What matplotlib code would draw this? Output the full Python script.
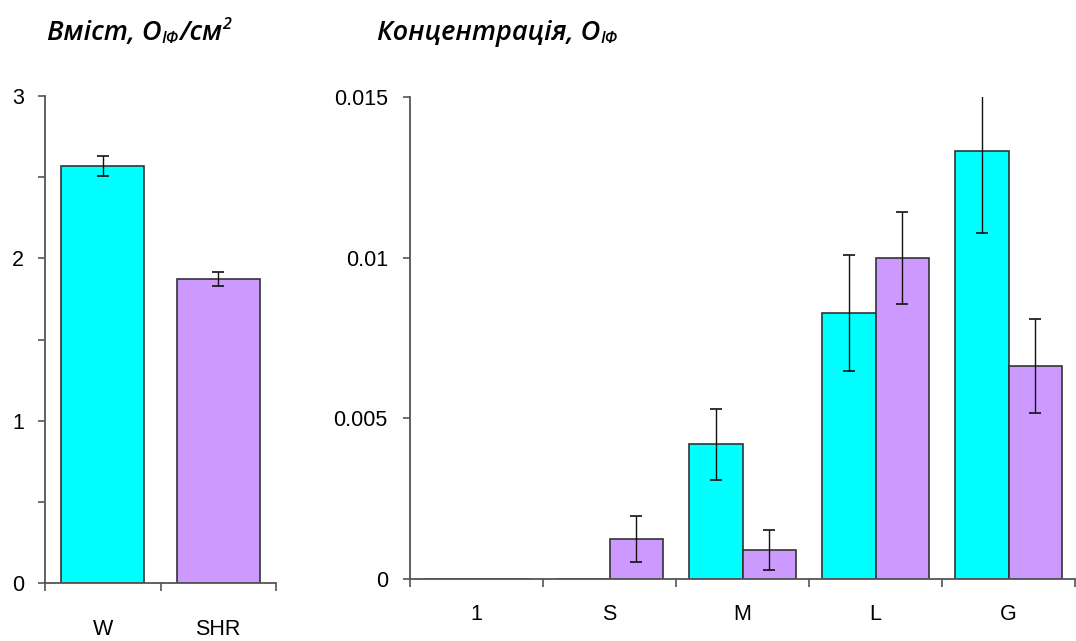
import numpy as np
import matplotlib
matplotlib.use("Agg")
import matplotlib.pyplot as plt
from matplotlib.ticker import MultipleLocator, FixedLocator

# total content per unit area
strains = ["W", "SHR"]
total = [2.57, 1.873]
total_err = [0.06, 0.045]

# concentration by fraction
fractions = ["1", "S", "M", "L", "G"]
conc_w = [0.0, 0.0, 0.00419, 0.00827, 0.01332]
conc_w_err = [0.0, 0.0, 0.0011, 0.0018, 0.00256]
conc_shr = [0.0, 0.00124, 0.00091, 0.00998, 0.00664]
conc_shr_err = [0.0, 0.00072, 0.00063, 0.00143, 0.00146]

CYAN = "#00FFFF"
PURPLE = "#CC99FF"
EDGE = "#333333"
SPINE = "#555555"

plt.rcParams["font.family"] = ["Liberation Sans", "DejaVu Sans"]

fig = plt.figure(figsize=(10.76, 6.41), dpi=100)
ax1 = fig.add_axes([45 / 1076, 58 / 641, 231 / 1076, 487 / 641])
ax2 = fig.add_axes([410 / 1076, 62 / 641, 665 / 1076, 482 / 641])


def style_axis(ax):
    for s in ["top", "right"]:
        ax.spines[s].set_visible(False)
    for s in ["left", "bottom"]:
        ax.spines[s].set_color(SPINE)
        ax.spines[s].set_linewidth(1.3)
    ax.tick_params(axis="y", which="both", direction="out", length=5,
                   width=1.2, color=SPINE, labelsize=15.5)
    ax.tick_params(axis="x", which="major", length=0, labelsize=15.5)
    ax.tick_params(axis="x", which="minor", direction="out", length=6,
                   width=1.2, color=SPINE)


# left panel
x1 = np.arange(len(strains))
ax1.bar(x1, total, width=0.72, color=[CYAN, PURPLE], edgecolor=EDGE,
        linewidth=1.2, zorder=2)
ax1.errorbar(x1, total, yerr=total_err, fmt="none", ecolor="#111111",
             elinewidth=1.0, capsize=4, capthick=1.2, zorder=3)
ax1.set_xlim(-0.5, 1.5)
ax1.set_ylim(0, 3)
ax1.yaxis.set_major_locator(MultipleLocator(1))
ax1.yaxis.set_minor_locator(MultipleLocator(0.5))
ax1.set_xticks(x1)
ax1.set_xticklabels(strains)
ax1.xaxis.set_minor_locator(FixedLocator([-0.5, 0.5, 1.5]))
style_axis(ax1)
ax1.tick_params(axis="x", which="major", pad=26)
ax1.tick_params(axis="y", pad=10)

# right panel
x2 = np.arange(len(fractions))
bw = 0.4
ax2.bar(x2 - bw / 2, conc_w, width=bw, color=CYAN, edgecolor=EDGE,
        linewidth=1.2, zorder=2)
ax2.bar(x2 + bw / 2, conc_shr, width=bw, color=PURPLE, edgecolor=EDGE,
        linewidth=1.2, zorder=2)
for xs, ys, es in [(x2 - bw / 2, conc_w, conc_w_err),
                   (x2 + bw / 2, conc_shr, conc_shr_err)]:
    keep = np.array(ys) > 0
    ax2.errorbar(xs[keep], np.array(ys)[keep], yerr=np.array(es)[keep],
                 fmt="none", ecolor="#111111", elinewidth=1.0, capsize=4,
                 capthick=1.2, zorder=3)
ax2.set_xlim(-0.5, 4.5)
ax2.set_ylim(0, 0.015)
ax2.set_yticks([0, 0.005, 0.01, 0.015])
ax2.set_yticklabels(["0", "0.005", "0.01", "0.015"])
ax2.set_xticks(x2)
ax2.set_xticklabels(fractions)
ax2.xaxis.set_minor_locator(FixedLocator(np.arange(-0.5, 5, 1.0)))
style_axis(ax2)
ax2.tick_params(axis="x", which="major", pad=18)
ax2.tick_params(axis="y", pad=11)

# italic titles with sub/superscripts, laid out piece by piece
TFONT = ["Open Sans", "DejaVu Sans"]


def rich_title(x, y, parts):
    renderer = fig.canvas.get_renderer()
    cx = x
    for txt, size, dy in parts:
        t = fig.text(cx, y + dy, txt, fontsize=size, style="italic",
                     weight="semibold", family=TFONT, ha="left",
                     va="baseline", transform=None)
        bb = t.get_window_extent(renderer=renderer)
        cx = bb.x1


fig.canvas.draw()
rich_title(47, 641 - 40, [("Вміст, O", 19.5, 0), ("IФ", 11.5, -3),
                          ("/см", 19.5, 0), ("2", 11.5, 11)])
rich_title(377, 641 - 40, [("Концентрація, O", 19.5, 0), ("IФ", 11.5, -3)])

fig.savefig("out.png", dpi=100)
